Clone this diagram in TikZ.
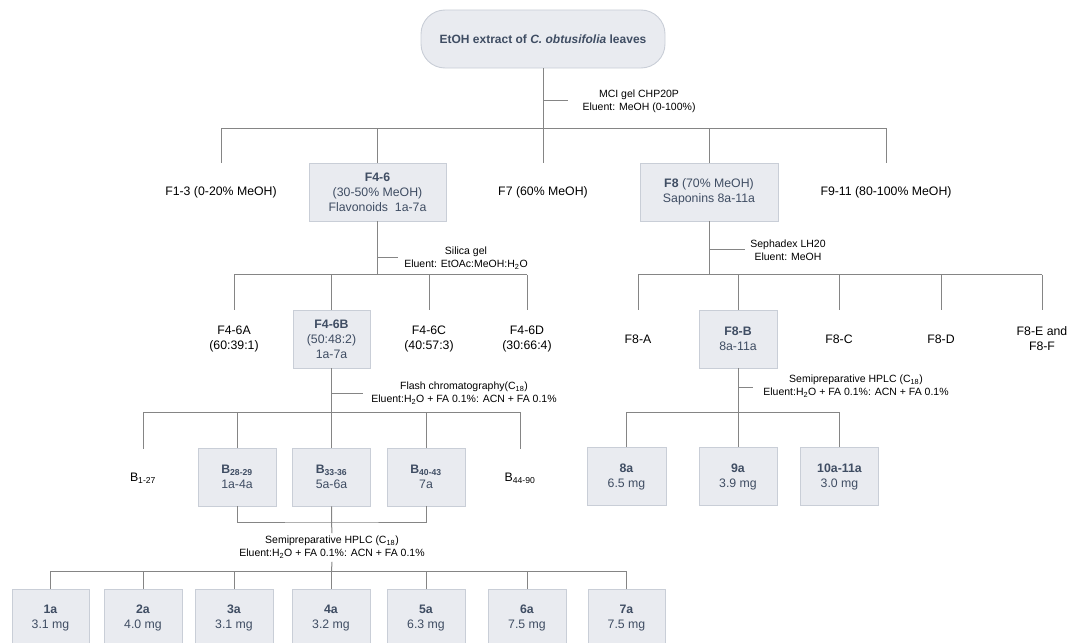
\documentclass[tikz,border=0pt]{standalone}
\usepackage{fontspec}
\setmainfont{Liberation Sans}
\usepackage{xcolor}

\definecolor{boxfill}{HTML}{E9EBF0}
\definecolor{boxline}{HTML}{C9CED7}
\definecolor{boxtext}{HTML}{3F4D63}
\definecolor{linkgray}{HTML}{858585}

\begin{document}
\begin{tikzpicture}[
    x=1pt, y=-1pt,
    every node/.style={align=center, inner sep=2pt},
    frac/.style={font=\fontsize{12.3}{15}\selectfont, minimum height=58pt},
    box/.style={frac, draw=boxline, fill=boxfill, text=boxtext, line width=0.9pt, minimum width=78pt},
    elute/.style={font=\fontsize{10.5}{13}\selectfont},
    link/.style={draw=linkgray, line width=1pt}
]
    \clip (0,0) rectangle (1067,642);

    % Crude extract
    \node (top) at (543,39) [box, rounded corners=24pt, minimum width=244pt,
        font=\fontsize{12}{15}\selectfont\bfseries] {EtOH extract of \textit{C. obtusifolia} leaves};

    % First column
    \node (mci) at (639,101) [elute] {MCI gel CHP20P\\Eluent: MeOH (0-100\%)};
    \coordinate (mcitick) at (568,100);
    \coordinate (bar1) at (543,128);

    % Fractions F1-F11
    \node (f13) at (221,192) [frac] {F1-3 (0-20\% MeOH)};
    \node (f46) at (377.5,192) [box, minimum width=137pt] {\textbf{F4-6}\\(30-50\% MeOH)\\Flavonoids\ \ 1a-7a};
    \node (f7) at (543,192) [frac] {F7 (60\% MeOH)};
    \node (f8) at (709,192) [box, minimum width=138pt] {\textbf{F8} (70\% MeOH)\\Saponins 8a-11a};
    \node (f911) at (886,192) [frac] {F9-11 (80-100\% MeOH)};

    % Silica gel on F4-6
    \node (silica) at (466,258) [elute] {Silica gel\\Eluent: EtOAc:MeOH:H\textsubscript{2}O};
    \coordinate (silicatick) at (398,257);
    \coordinate (bar2l) at (377.5,274.5);

    % Sephadex on F8
    \node (sephadex) at (788,250) [elute] {Sephadex LH20\\Eluent: MeOH};
    \coordinate (sephadextick) at (745,249);
    \coordinate (bar2r) at (709,274.5);

    % Sub-fractions of F4-6
    \node (f46a) at (234,339) [frac] {F4-6A\\(60:39:1)};
    \node (f46b) at (331.5,339) [box, minimum width=77pt] {\textbf{F4-6B}\\(50:48:2)\\1a-7a};
    \node (f46c) at (429,339) [frac] {F4-6C\\(40:57:3)};
    \node (f46d) at (527,339) [frac] {F4-6D\\(30:66:4)};

    % Sub-fractions of F8
    \node (f8a) at (638,339) [frac] {F8-A};
    \node (f8b) at (738,339) [box] {\textbf{F8-B}\\8a-11a};
    \node (f8c) at (839,339) [frac] {F8-C};
    \node (f8d) at (941,339) [frac] {F8-D};
    \node (f8ef) at (1042,339) [frac] {F8-E and\\F8-F};

    % Flash chromatography on F4-6B
    \node (flash) at (464,393.5) [elute] {Flash chromatography(C\textsubscript{18})\\Eluent:H\textsubscript{2}O + FA 0.1\%: ACN + FA 0.1\%};
    \coordinate (flashtick) at (363,393);
    \coordinate (bar3l) at (331.5,412);

    % HPLC on F8-B
    \node (hplcr) at (856,386) [elute] {Semipreparative HPLC (C\textsubscript{18})\\Eluent:H\textsubscript{2}O + FA 0.1\%: ACN + FA 0.1\%};
    \coordinate (hplcrtick) at (753,387);
    \coordinate (bar3r) at (738,412);

    % Flash fractions
    \node (b127) at (143,478) [frac] {B\textsubscript{1-27}};
    \node (b2829) at (237,477) [box] {\textbf{B\textsubscript{28-29}}\\1a-4a};
    \node (b3336) at (331.5,477) [box] {\textbf{B\textsubscript{33-36}}\\5a-6a};
    \node (b4043) at (426,477) [box] {\textbf{B\textsubscript{40-43}}\\7a};
    \node (b4490) at (520,478) [frac] {B\textsubscript{44-90}};

    % Saponins
    \node (c8a) at (626.5,476.5) [box, minimum width=79pt] {\textbf{8a}\\6.5 mg};
    \node (c9a) at (738,476.5) [box] {\textbf{9a}\\3.9 mg};
    \node (c1011a) at (839.5,476.5) [box] {\textbf{10a-11a}\\3.0 mg};

    % HPLC on pooled B fractions
    \coordinate (bjoin) at (331.5,522);
    \node (hplcb) at (332,547.5) [elute, inner sep=3pt] {Semipreparative HPLC (C\textsubscript{18})\\Eluent:H\textsubscript{2}O + FA 0.1\%: ACN + FA 0.1\%};
    \coordinate (bar4) at (331.5,571);

    % Flavonoids
    \node (c1a) at (50.5,618) [box, minimum width=77pt] {\textbf{1a}\\3.1 mg};
    \node (c2a) at (143,618) [box] {\textbf{2a}\\4.0 mg};
    \node (c3a) at (234,618) [box] {\textbf{3a}\\3.1 mg};
    \node (c4a) at (331,618) [box] {\textbf{4a}\\3.2 mg};
    \node (c5a) at (426,618) [box] {\textbf{5a}\\6.3 mg};
    \node (c6a) at (527,618) [box] {\textbf{6a}\\7.5 mg};
    \node (c7a) at (626.5,618) [box, minimum width=77pt] {\textbf{7a}\\7.5 mg};

    % Extract to first fractions
    \draw[link] (top) -- (bar1);
    \draw[link] (top.south |- mcitick) -- (mcitick);
    \draw[link] (f13.north |- bar1) -- (f911.north |- bar1);
    \draw[link] (f13.north |- bar1) -- (f13.north);
    \draw[link] (f46.north |- bar1) -- (f46.north);
    \draw[link] (bar1) -- (f7.north);
    \draw[link] (f8.north |- bar1) -- (f8.north);
    \draw[link] (f911.north |- bar1) -- (f911.north);

    % F4-6 to its sub-fractions
    \draw[link] (f46) -- (bar2l);
    \draw[link] (f46.south |- silicatick) -- (silicatick);
    \draw[link] (f46a.north |- bar2l) -- (f46d.north |- bar2l);
    \draw[link] (f46a.north |- bar2l) -- (f46a.north);
    \draw[link] (f46b.north |- bar2l) -- (f46b.north);
    \draw[link] (f46c.north |- bar2l) -- (f46c.north);
    \draw[link] (f46d.north |- bar2l) -- (f46d.north);

    % F8 to its sub-fractions
    \draw[link] (f8) -- (bar2r);
    \draw[link] (f8.south |- sephadextick) -- (sephadextick);
    \draw[link] (f8a.north |- bar2r) -- (f8ef.north |- bar2r);
    \draw[link] (f8a.north |- bar2r) -- (f8a.north);
    \draw[link] (f8b.north |- bar2r) -- (f8b.north);
    \draw[link] (f8c.north |- bar2r) -- (f8c.north);
    \draw[link] (f8d.north |- bar2r) -- (f8d.north);
    \draw[link] (f8ef.north |- bar2r) -- (f8ef.north);

    % F4-6B to B fractions
    \draw[link] (f46b) -- (bar3l);
    \draw[link] (f46b.south |- flashtick) -- (flashtick);
    \draw[link] (b127.north |- bar3l) -- (b4490.north |- bar3l);
    \draw[link] (b127.north |- bar3l) -- (b127.north);
    \draw[link] (b2829.north |- bar3l) -- (b2829.north);
    \draw[link] (b3336.north |- bar3l) -- (b3336.north);
    \draw[link] (b4043.north |- bar3l) -- (b4043.north);
    \draw[link] (b4490.north |- bar3l) -- (b4490.north);

    % F8-B to saponins
    \draw[link] (f8b) -- (bar3r);
    \draw[link] (f8b.south |- hplcrtick) -- (hplcrtick);
    \draw[link] (c8a.north |- bar3r) -- (c1011a.north |- bar3r);
    \draw[link] (c8a.north |- bar3r) -- (c8a.north);
    \draw[link] (c9a.north |- bar3r) -- (c9a.north);
    \draw[link] (c1011a.north |- bar3r) -- (c1011a.north);

    % B fractions to flavonoids
    \draw[link] (b2829.south) |- (bjoin) -| (b4043.south);
    \draw[link] (b3336.south) -- (bjoin) -- (hplcb.north);
    \draw[link] (hplcb.south) -- (bar4);
    \draw[link] (c1a.north |- bar4) -- (c7a.north |- bar4);
    \draw[link] (c1a.north |- bar4) -- (c1a.north);
    \draw[link] (c2a.north |- bar4) -- (c2a.north);
    \draw[link] (c3a.north |- bar4) -- (c3a.north);
    \draw[link] (c4a.north |- bar4) -- (c4a.north);
    \draw[link] (c5a.north |- bar4) -- (c5a.north);
    \draw[link] (c6a.north |- bar4) -- (c6a.north);
    \draw[link] (c7a.north |- bar4) -- (c7a.north);
\end{tikzpicture}
\end{document}
